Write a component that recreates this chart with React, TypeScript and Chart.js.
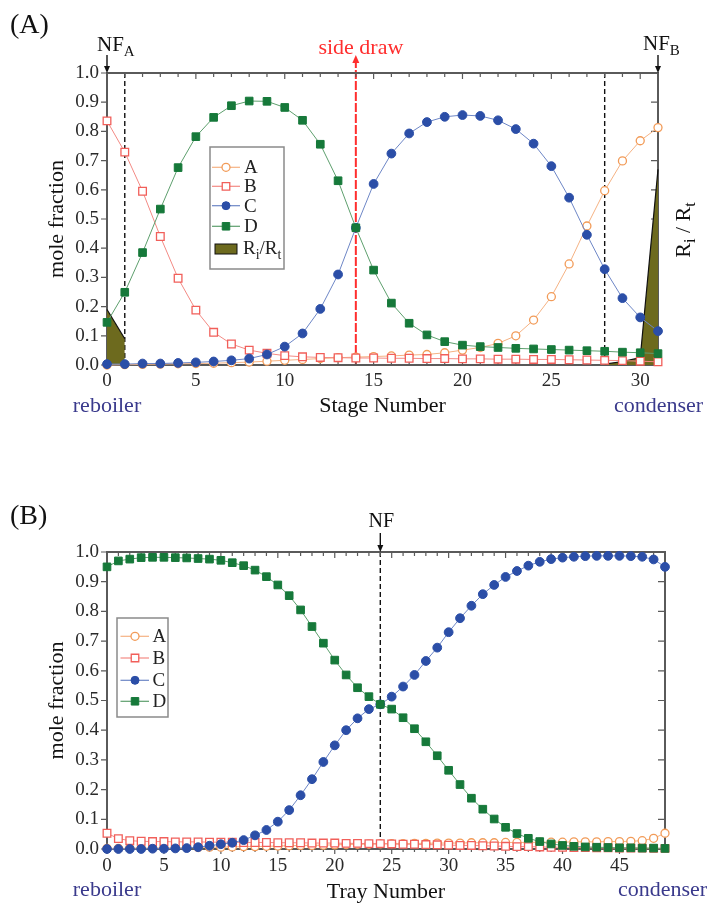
import React, { useEffect, useRef } from 'react';
import { Chart, registerables } from 'chart.js';

Chart.register(...registerables);

const SERIF = "'Liberation Serif', 'Times New Roman', 'DejaVu Serif', serif";
const W = 707;
const H_A = 450;
const H_B = 457;

// ---------------- Panel A (stages 0..31) ----------------
const stageTicksA = [0, 5, 10, 15, 20, 25, 30];
const stageMaxA = 31;
const compA_A = [0.0, 0.001, 0.002, 0.003, 0.004, 0.005, 0.006, 0.008, 0.010, 0.013, 0.016, 0.019, 0.022, 0.025, 0.027, 0.029, 0.031, 0.034, 0.036, 0.042, 0.051, 0.060, 0.074, 0.100, 0.154, 0.234, 0.346, 0.476, 0.597, 0.699, 0.768, 0.813];
const compB_A = [0.836, 0.729, 0.595, 0.440, 0.297, 0.188, 0.112, 0.072, 0.051, 0.040, 0.032, 0.028, 0.026, 0.025, 0.024, 0.024, 0.023, 0.023, 0.022, 0.022, 0.021, 0.021, 0.020, 0.020, 0.019, 0.019, 0.018, 0.017, 0.016, 0.015, 0.013, 0.011];
const compC_A = [0.003, 0.003, 0.005, 0.005, 0.007, 0.009, 0.012, 0.016, 0.022, 0.036, 0.063, 0.108, 0.192, 0.310, 0.470, 0.620, 0.724, 0.793, 0.832, 0.850, 0.856, 0.853, 0.838, 0.808, 0.758, 0.681, 0.573, 0.446, 0.328, 0.229, 0.163, 0.116];
const compD_A = [0.146, 0.249, 0.385, 0.534, 0.676, 0.782, 0.848, 0.888, 0.904, 0.903, 0.882, 0.838, 0.756, 0.631, 0.470, 0.325, 0.212, 0.143, 0.103, 0.080, 0.068, 0.063, 0.060, 0.057, 0.055, 0.053, 0.051, 0.049, 0.047, 0.044, 0.042, 0.039];
const ratioLeftX = [0, 1];
const ratioLeftY = [0.19, 0.09];
const ratioRightX = [28, 29, 30, 31];
const ratioRightY = [0.003, 0.012, 0.025, 0.67];
const feedStageA = 1;
const feedStageB = 28;
const sideDrawStage = 14;

// ---------------- Panel B (trays 0..49) ----------------
const trayTicksB = [0, 5, 10, 15, 20, 25, 30, 35, 40, 45];
const trayMaxB = 49;
const compA_B = [0.002, 0.002, 0.003, 0.003, 0.003, 0.004, 0.004, 0.005, 0.005, 0.006, 0.006, 0.007, 0.008, 0.008, 0.009, 0.010, 0.011, 0.012, 0.012, 0.013, 0.014, 0.015, 0.016, 0.016, 0.017, 0.018, 0.018, 0.019, 0.019, 0.020, 0.020, 0.020, 0.021, 0.021, 0.021, 0.022, 0.022, 0.022, 0.023, 0.023, 0.023, 0.024, 0.024, 0.024, 0.025, 0.025, 0.026, 0.028, 0.036, 0.053];
const compB_B = [0.053, 0.035, 0.028, 0.026, 0.025, 0.025, 0.024, 0.024, 0.024, 0.023, 0.023, 0.023, 0.022, 0.022, 0.022, 0.021, 0.021, 0.021, 0.020, 0.020, 0.020, 0.019, 0.019, 0.018, 0.018, 0.017, 0.016, 0.016, 0.015, 0.014, 0.013, 0.012, 0.012, 0.011, 0.010, 0.009, 0.008, 0.008, 0.007, 0.006, 0.006, 0.005, 0.005, 0.004, 0.004, 0.003, 0.003, 0.003, 0.002, 0.002];
const compC_B = [0.000, 0.000, 0.000, 0.000, 0.001, 0.001, 0.002, 0.003, 0.006, 0.011, 0.016, 0.021, 0.030, 0.046, 0.064, 0.092, 0.131, 0.181, 0.235, 0.293, 0.349, 0.400, 0.440, 0.471, 0.487, 0.513, 0.547, 0.586, 0.633, 0.678, 0.730, 0.777, 0.819, 0.858, 0.889, 0.916, 0.936, 0.954, 0.967, 0.976, 0.981, 0.984, 0.986, 0.987, 0.987, 0.987, 0.986, 0.984, 0.975, 0.950];
const compD_B = [0.950, 0.970, 0.976, 0.981, 0.982, 0.982, 0.981, 0.980, 0.978, 0.976, 0.972, 0.964, 0.954, 0.939, 0.917, 0.889, 0.853, 0.805, 0.749, 0.693, 0.636, 0.586, 0.543, 0.513, 0.487, 0.471, 0.442, 0.405, 0.361, 0.314, 0.265, 0.217, 0.171, 0.134, 0.101, 0.073, 0.052, 0.036, 0.025, 0.017, 0.012, 0.009, 0.007, 0.006, 0.005, 0.004, 0.004, 0.003, 0.003, 0.002];
const feedTrayB = 24;

const fractionTicks = [0, 0.1, 0.2, 0.3, 0.4, 0.5, 0.6, 0.7, 0.8, 0.9, 1.0];
const legendKeys = ['A', 'B', 'C', 'D'];

const COLORS: Record<string, { point: string; line: string }> = {
  A: { point: '#f29b58', line: '#f5b283' },
  B: { point: '#f15f5a', line: '#f38a84' },
  C: { point: '#2b4ea7', line: '#6d86c6' },
  D: { point: '#16793a', line: '#5d9f6d' },
};
const OLIVE = '#6d6a1e';
const NAVY = '#3a3a8c';
const RED = '#ff2e2e';
const FRAME = '#5a5a5a';

function seriesDataset(kind: string, values: number[], r: number, order: number) {
  const open = kind === 'A' || kind === 'B';
  const square = kind === 'B' || kind === 'D';
  return {
    type: 'line' as const,
    label: kind,
    data: values.map((v, i) => ({ x: i, y: v })),
    borderColor: COLORS[kind].line,
    borderWidth: 1,
    pointStyle: square ? 'rect' : 'circle',
    pointRadius: square ? r * 1.35 : r,
    pointBorderColor: COLORS[kind].point,
    pointBackgroundColor: open ? '#ffffff' : COLORS[kind].point,
    pointBorderWidth: open ? 1.3 : 1,
    fill: false,
    tension: 0,
    clip: false as any,
    order,
  };
}

function ratioDataset(xs: number[], ys: number[]) {
  return {
    type: 'line' as const,
    label: 'Ri/Rt',
    data: xs.map((x, i) => ({ x, y: ys[i] })),
    borderColor: '#111111',
    borderWidth: 1.2,
    backgroundColor: OLIVE,
    fill: 'origin',
    pointRadius: 0,
    tension: 0,
    clip: false as any,
    order: 10,
  };
}

function drawRich(ctx: CanvasRenderingContext2D, parts: [string, boolean][], x: number, y: number, size: number, align: 'left' | 'center' = 'left') {
  const subSize = Math.round(size * 0.72);
  const widths = parts.map(([t, sub]) => {
    ctx.font = `${sub ? subSize : size}px ${SERIF}`;
    return ctx.measureText(t).width;
  });
  const total = widths.reduce((a, b) => a + b, 0);
  let cx = align === 'center' ? x - total / 2 : x;
  ctx.textAlign = 'left';
  ctx.textBaseline = 'middle';
  parts.forEach(([t, sub], i) => {
    ctx.font = `${sub ? subSize : size}px ${SERIF}`;
    ctx.fillText(t, cx, sub ? y + size * 0.33 : y);
    cx += widths[i];
  });
}

function arrowDown(ctx: CanvasRenderingContext2D, x: number, y0: number, tipY: number, color: string) {
  ctx.save();
  ctx.strokeStyle = color;
  ctx.fillStyle = color;
  ctx.lineWidth = 1.4;
  ctx.setLineDash([]);
  ctx.beginPath();
  ctx.moveTo(x, y0);
  ctx.lineTo(x, tipY - 5);
  ctx.stroke();
  ctx.beginPath();
  ctx.moveTo(x, tipY);
  ctx.lineTo(x - 3, tipY - 7);
  ctx.lineTo(x + 3, tipY - 7);
  ctx.closePath();
  ctx.fill();
  ctx.restore();
}

function drawMarker(ctx: CanvasRenderingContext2D, kind: string, cx: number, cy: number, r: number) {
  const open = kind === 'A' || kind === 'B';
  const square = kind === 'B' || kind === 'D';
  ctx.beginPath();
  if (square) {
    const h = r * 0.94;
    ctx.rect(cx - h, cy - h, 2 * h, 2 * h);
  } else {
    ctx.arc(cx, cy, r, 0, Math.PI * 2);
  }
  ctx.fillStyle = open ? '#ffffff' : COLORS[kind].point;
  ctx.fill();
  ctx.lineWidth = open ? 1.3 : 1;
  ctx.strokeStyle = COLORS[kind].point;
  ctx.stroke();
}

function drawFrame(chart: any, xMax: number, bottomOut: boolean) {
  const { ctx, chartArea: ca, scales } = chart;
  const x = scales.x;
  const y = scales.y;
  ctx.save();
  ctx.setLineDash([]);
  ctx.strokeStyle = FRAME;
  ctx.lineWidth = 2;
  ctx.strokeRect(ca.left, ca.top, ca.right - ca.left, ca.bottom - ca.top);
  ctx.lineWidth = 1.2;
  ctx.beginPath();
  for (let i = 0; i <= xMax; i++) {
    const px = x.getPixelForValue(i);
    const len = i % 5 === 0 ? 6 : 4;
    ctx.moveTo(px, ca.top);
    ctx.lineTo(px, ca.top + len);
    if (bottomOut) {
      ctx.moveTo(px, ca.bottom);
      ctx.lineTo(px, ca.bottom + len - 1);
    } else {
      ctx.moveTo(px, ca.bottom);
      ctx.lineTo(px, ca.bottom - len);
    }
  }
  fractionTicks.forEach((v) => {
    const py = y.getPixelForValue(v);
    ctx.moveTo(ca.left - 6, py);
    ctx.lineTo(ca.left, py);
    ctx.moveTo(ca.right, py);
    ctx.lineTo(ca.right - 7, py);
  });
  ctx.stroke();
  ctx.restore();
}

function commonScales(xMax: number, xTicks: number[], xTitle: string, xHeight: number, xTitlePad: number, xTickPad: number) {
  return {
    x: {
      type: 'linear' as const,
      min: 0,
      max: xMax,
      afterBuildTicks: (s: any) => {
        s.ticks = xTicks.map((v) => ({ value: v }));
      },
      afterFit: (s: any) => {
        s.height = xHeight;
      },
      grid: { display: false, drawTicks: false },
      border: { display: false },
      ticks: {
        font: { family: SERIF, size: 19 },
        color: '#2a2a2a',
        padding: xTickPad,
        maxRotation: 0,
        autoSkip: false,
      },
      title: {
        display: true,
        text: xTitle,
        font: { family: SERIF, size: 22 },
        color: '#111111',
        padding: { top: 0, bottom: xTitlePad },
      },
    },
    y: {
      type: 'linear' as const,
      min: 0,
      max: 1,
      afterBuildTicks: (s: any) => {
        s.ticks = fractionTicks.map((v) => ({ value: v }));
      },
      afterFit: (s: any) => {
        s.width = 107;
      },
      grid: { display: false, drawTicks: false },
      border: { display: false },
      ticks: {
        font: { family: SERIF, size: 19 },
        color: '#2a2a2a',
        padding: 8,
        callback: (v: any) => Number(v).toFixed(1),
      },
      title: {
        display: true,
        text: 'mole fraction',
        font: { family: SERIF, size: 22 },
        color: '#111111',
        padding: { top: 44, bottom: 0 },
      },
    },
  };
}

function buildA(): any {
  const plugin = {
    id: 'panelA',
    beforeDatasetsDraw(chart: any) {
      const { ctx, chartArea: ca, scales } = chart;
      const x = scales.x;
      ctx.save();
      ctx.strokeStyle = '#111111';
      ctx.lineWidth = 1.4;
      ctx.setLineDash([5, 3]);
      [feedStageA, feedStageB].forEach((s) => {
        const px = x.getPixelForValue(s);
        ctx.beginPath();
        ctx.moveTo(px, ca.top);
        ctx.lineTo(px, ca.bottom);
        ctx.stroke();
      });
      const xs = x.getPixelForValue(sideDrawStage);
      ctx.strokeStyle = RED;
      ctx.lineWidth = 2;
      ctx.setLineDash([9, 2]);
      ctx.beginPath();
      ctx.moveTo(xs, ca.bottom);
      ctx.lineTo(xs, ca.top - 11);
      ctx.stroke();
      ctx.setLineDash([]);
      ctx.fillStyle = RED;
      ctx.beginPath();
      ctx.moveTo(xs, ca.top - 18);
      ctx.lineTo(xs - 3.5, ca.top - 10);
      ctx.lineTo(xs + 3.5, ca.top - 10);
      ctx.closePath();
      ctx.fill();
      ctx.restore();
      drawFrame(chart, stageMaxA, false);
    },
    afterDraw(chart: any) {
      const { ctx, chartArea: ca, scales } = chart;
      const x = scales.x;
      const x0 = x.getPixelForValue(0);
      const xN = x.getPixelForValue(stageMaxA);
      const xs = x.getPixelForValue(sideDrawStage);
      ctx.save();
      ctx.fillStyle = '#111111';
      ctx.textAlign = 'left';
      ctx.textBaseline = 'middle';
      ctx.font = `28px ${SERIF}`;
      ctx.fillText('(A)', 10, 26);
      arrowDown(ctx, x0, ca.top - 18, ca.top, '#111111');
      arrowDown(ctx, xN, ca.top - 18, ca.top, '#111111');
      drawRich(ctx, [['NF', false], ['A', true]], x0 - 10, 45, 21);
      drawRich(ctx, [['NF', false], ['B', true]], xN - 15, 44, 21);
      ctx.fillStyle = RED;
      ctx.font = `22px ${SERIF}`;
      ctx.textAlign = 'center';
      ctx.fillText('side draw', xs + 5, 48);
      ctx.fillStyle = '#111111';
      ctx.save();
      ctx.translate(684, ca.top + 157);
      ctx.rotate(-Math.PI / 2);
      drawRich(ctx, [['R', false], ['i', true], [' / R', false], ['t', true]], 0, 0, 22, 'center');
      ctx.restore();
      ctx.fillStyle = NAVY;
      ctx.font = `22px ${SERIF}`;
      ctx.textAlign = 'center';
      ctx.textBaseline = 'middle';
      ctx.fillText('reboiler', x0, 406);
      ctx.textAlign = 'left';
      ctx.fillText('condenser', 614, 406);
      const bx = ca.left + 103;
      const by = ca.top + 74;
      ctx.fillStyle = '#ffffff';
      ctx.fillRect(bx, by, 74, 122);
      ctx.strokeStyle = '#8a8a8a';
      ctx.lineWidth = 1.5;
      ctx.strokeRect(bx, by, 74, 122);
      const rows = [20.3, 39.3, 58.7, 79.3];
      legendKeys.forEach((k, i) => {
        const ry = by + rows[i];
        ctx.strokeStyle = COLORS[k].line;
        ctx.lineWidth = 1.2;
        ctx.beginPath();
        ctx.moveTo(bx + 2, ry);
        ctx.lineTo(bx + 30, ry);
        ctx.stroke();
        drawMarker(ctx, k, bx + 16, ry, 4);
        ctx.fillStyle = '#222222';
        ctx.font = `19px ${SERIF}`;
        ctx.textAlign = 'left';
        ctx.textBaseline = 'middle';
        ctx.fillText(k, bx + 34, ry + 1);
      });
      const ry = by + 102;
      ctx.fillStyle = OLIVE;
      ctx.fillRect(bx + 5, ry - 5, 22, 10);
      ctx.strokeStyle = '#111111';
      ctx.lineWidth = 1;
      ctx.strokeRect(bx + 5, ry - 5, 22, 10);
      ctx.fillStyle = '#222222';
      drawRich(ctx, [['R', false], ['i', true], ['/R', false], ['t', true]], bx + 33, ry, 19);
      ctx.restore();
    },
  };

  return {
    type: 'line',
    data: {
      datasets: [
        seriesDataset('A', compA_A, 4, 4),
        seriesDataset('B', compB_A, 4, 3),
        seriesDataset('C', compC_A, 4.4, 2),
        seriesDataset('D', compD_A, 4, 1),
        ratioDataset(ratioLeftX, ratioLeftY),
        ratioDataset(ratioRightX, ratioRightY),
      ],
    },
    options: {
      animation: false,
      responsive: false,
      maintainAspectRatio: false,
      layout: { padding: { top: 73, right: 49, left: 0, bottom: 0 } },
      plugins: { legend: { display: false }, tooltip: { enabled: false } },
      scales: commonScales(stageMaxA, stageTicksA, 'Stage Number', H_A - 365, 31, 5),
    },
    plugins: [plugin],
  };
}

function buildB(): any {
  const plugin = {
    id: 'panelB',
    beforeDatasetsDraw(chart: any) {
      const { ctx, chartArea: ca, scales } = chart;
      const x = scales.x;
      const px = x.getPixelForValue(feedTrayB);
      ctx.save();
      ctx.strokeStyle = '#111111';
      ctx.lineWidth = 1.4;
      ctx.setLineDash([5, 3]);
      ctx.beginPath();
      ctx.moveTo(px, ca.top);
      ctx.lineTo(px, ca.bottom);
      ctx.stroke();
      ctx.restore();
      drawFrame(chart, trayMaxB, true);
    },
    afterDraw(chart: any) {
      const { ctx, chartArea: ca, scales } = chart;
      const x = scales.x;
      const x0 = x.getPixelForValue(0);
      const xf = x.getPixelForValue(feedTrayB);
      ctx.save();
      ctx.fillStyle = '#111111';
      ctx.textAlign = 'left';
      ctx.textBaseline = 'middle';
      ctx.font = `28px ${SERIF}`;
      ctx.fillText('(B)', 10, 67);
      arrowDown(ctx, xf, ca.top - 19, ca.top, '#111111');
      ctx.font = `20px ${SERIF}`;
      ctx.textAlign = 'center';
      ctx.fillText('NF', xf + 1, 72);
      ctx.fillStyle = NAVY;
      ctx.font = `22px ${SERIF}`;
      ctx.textAlign = 'center';
      ctx.fillText('reboiler', x0, 440);
      ctx.textAlign = 'left';
      ctx.fillText('condenser', 618, 440);
      const bx = ca.left + 10;
      const by = ca.top + 66;
      ctx.fillStyle = '#ffffff';
      ctx.fillRect(bx, by, 51, 99);
      ctx.strokeStyle = '#8a8a8a';
      ctx.lineWidth = 1.5;
      ctx.strokeRect(bx, by, 51, 99);
      const rows = [18.3, 40, 62.3, 83.3];
      legendKeys.forEach((k, i) => {
        const ry = by + rows[i];
        ctx.strokeStyle = COLORS[k].line;
        ctx.lineWidth = 1.2;
        ctx.beginPath();
        ctx.moveTo(bx + 3.5, ry);
        ctx.lineTo(bx + 32, ry);
        ctx.stroke();
        drawMarker(ctx, k, bx + 18, ry, 4);
        ctx.fillStyle = '#222222';
        ctx.font = `19px ${SERIF}`;
        ctx.textAlign = 'left';
        ctx.textBaseline = 'middle';
        ctx.fillText(k, bx + 35.5, ry + 1);
      });
      ctx.restore();
    },
  };

  return {
    type: 'line',
    data: {
      datasets: [
        seriesDataset('A', compA_B, 4, 4),
        seriesDataset('B', compB_B, 4, 3),
        seriesDataset('C', compC_B, 4.4, 2),
        seriesDataset('D', compD_B, 4, 1),
      ],
    },
    options: {
      animation: false,
      responsive: false,
      maintainAspectRatio: false,
      layout: { padding: { top: 102, right: 42, left: 0, bottom: 0 } },
      plugins: { legend: { display: false }, tooltip: { enabled: false } },
      scales: commonScales(trayMaxB, trayTicksB, 'Tray Number', H_B - 399, 2, 6),
    },
    plugins: [plugin],
  };
}

function ChartCanvas({ height, build }: { height: number; build: () => any }) {
  const ref = useRef<HTMLCanvasElement>(null);
  useEffect(() => {
    const chart = new Chart(ref.current as HTMLCanvasElement, build());
    return () => chart.destroy();
  }, []);
  return <canvas ref={ref} width={W} height={height} style={{ display: 'block', width: W, height }} />;
}

export default function App() {
  return (
    <div style={{ position: 'absolute', left: 0, top: 0, width: W, height: H_A + H_B, background: '#ffffff' }}>
      <ChartCanvas height={H_A} build={buildA} />
      <ChartCanvas height={H_B} build={buildB} />
    </div>
  );
}
